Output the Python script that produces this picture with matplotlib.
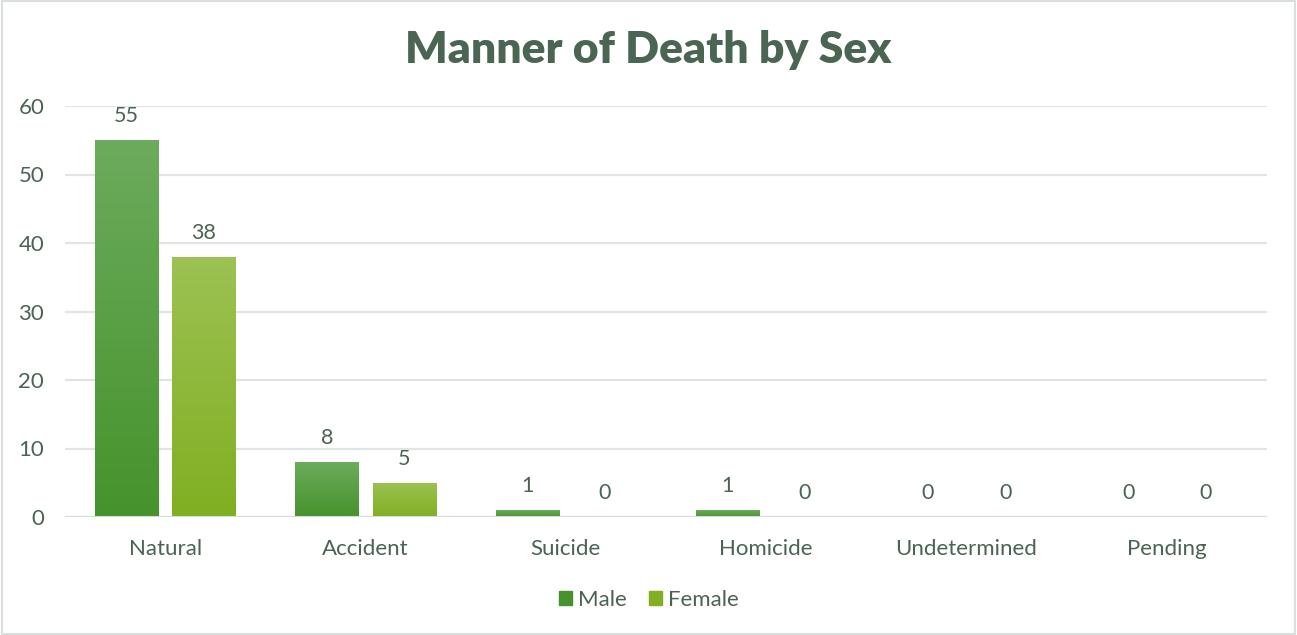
import matplotlib
matplotlib.use("Agg")
import matplotlib.pyplot as plt
import numpy as np
from matplotlib.colors import LinearSegmentedColormap
from matplotlib.patches import Rectangle

categories = ["Natural", "Accident", "Suicide", "Homicide", "Undetermined", "Pending"]
male = [55, 8, 1, 1, 0, 0]
female = [38, 5, 0, 0, 0, 0]
series_names = ["Male", "Female"]
title = "Manner of Death by Sex"
yticks = [0, 10, 20, 30, 40, 50, 60]

txt = "#4b6353"
grid_c = "#dfe5e2"
male_top, male_bot = "#6cab5c", "#46932c"
fem_top, fem_bot = "#9cc253", "#80af22"

plt.rcParams['font.family'] = ['Lato', 'DejaVu Sans']
fig = plt.figure(figsize=(12.97, 6.35), dpi=100)
fig.patch.set_facecolor("white")
fig.patches.append(Rectangle((0.0015, 0.002), 0.997, 0.996, transform=fig.transFigure,
                             fill=False, edgecolor="#d9dfdc", linewidth=1.5))

ax = fig.add_axes([65/1297, 1-517/635, (1267-65)/1297, (517-106)/635])

x = np.arange(len(categories))
bw = 0.315
gap = 0.07
off = (bw + gap) / 2

def grad_bars(xs, vals, top, bot):
    cmap = LinearSegmentedColormap.from_list("g", [bot, top])
    bars = ax.bar(xs, vals, width=bw, color=bot, zorder=3, linewidth=0)
    for b in bars:
        h = b.get_height()
        if h <= 0:
            continue
        b.set_facecolor("none")
        grad = np.linspace(0, 1, 256).reshape(-1, 1)
        im = ax.imshow(grad, cmap=cmap, origin="lower", aspect="auto",
                       extent=[b.get_x(), b.get_x()+b.get_width(), 0, h], zorder=3)
        im.set_clip_path(b)
    return bars

grad_bars(x - off, male, male_top, male_bot)
grad_bars(x + off, female, fem_top, fem_bot)
ax.set_xlim(-0.5, len(categories)-0.5)
ax.set_ylim(0, 60)

for xs, vals in ((x - off, male), (x + off, female)):
    for xi, v in zip(xs, vals):
        ax.annotate(str(v), (xi, v), xytext=(0, 10), textcoords="offset points",
                    ha="center", va="bottom", fontsize=15.5, color=txt)

ax.set_yticks(yticks)
ax.set_yticklabels([str(t) for t in yticks], fontsize=16, color=txt)
ax.set_xticks(x)
ax.set_xticklabels(categories, fontsize=16, color=txt)
ax.tick_params(axis="both", length=0)
ax.tick_params(axis="y", pad=15)
ax.tick_params(axis="x", pad=16)
ax.grid(axis="y", color=grid_c, linewidth=1.6, zorder=0)
for s in ax.spines.values():
    s.set_visible(False)
ax.axhline(0, color="#d6dcd9", linewidth=2.2, zorder=4)

fig.text(0.5, 1-50/635, title, ha="center", va="center", fontsize=32,
         fontweight="heavy", color="#4a6652")

handles = [Rectangle((0, 0), 1, 1, color=male_bot), Rectangle((0, 0), 1, 1, color=fem_bot)]
leg = fig.legend(handles, series_names, loc="center", bbox_to_anchor=(0.5, 1-600/635),
                 ncol=2, frameon=False, fontsize=16, handlelength=0.6, handleheight=0.6,
                 handletextpad=0.25, columnspacing=1.0)
for t in leg.get_texts():
    t.set_color(txt)

fig.savefig("out.png", dpi=100, facecolor="white")
